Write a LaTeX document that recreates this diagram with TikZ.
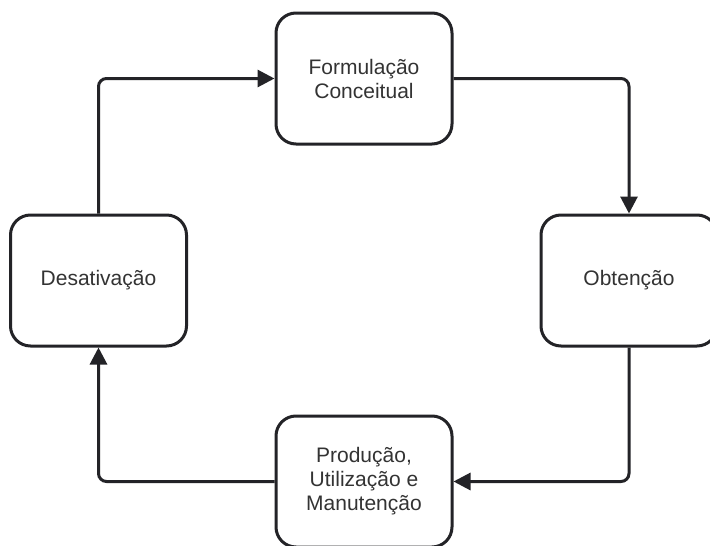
\documentclass[tikz,border=0pt]{standalone}
\usepackage{fontspec}
\setmainfont{Liberation Sans}
\usetikzlibrary{arrows.meta}
\definecolor{ink}{HTML}{232327}
\definecolor{txt}{HTML}{333333}
\begin{document}
\begin{tikzpicture}[x=1pt,y=-1pt,
  stage/.style={draw=ink, line width=3pt, rounded corners=20pt, fill=white,
    minimum width=176pt, minimum height=131pt, inner sep=0pt,
    align=center, text=txt, font=\fontsize{21}{24}\selectfont},
  conn/.style={draw=ink, line width=3pt, rounded corners=8pt,
    -{Triangle[length=17pt,width=17pt]}}]
  \useasboundingbox (0,0) rectangle (710,546);
  \clip (0,0) rectangle (710,546);
  \fill[white] (0,0) rectangle (710,546);
  % the four stages of the cycle
  \node[stage] (T) at (364,78.5) {Formulação\\Conceitual};
  \node[stage] (R) at (629,280.5) {Obtenção};
  \node[stage] (B) at (364,481.5) {Produção,\\Utilização e\\Manutenção};
  \node[stage] (L) at (98.5,280.5) {Desativação};
  % clockwise flow between the stages
  \draw[conn] (L.north) |- (T.west);
  \draw[conn] (T.east) -| (R.north);
  \draw[conn] (R.south) |- (B.east);
  \draw[conn] (B.west) -| (L.south);
\end{tikzpicture}
\end{document}
